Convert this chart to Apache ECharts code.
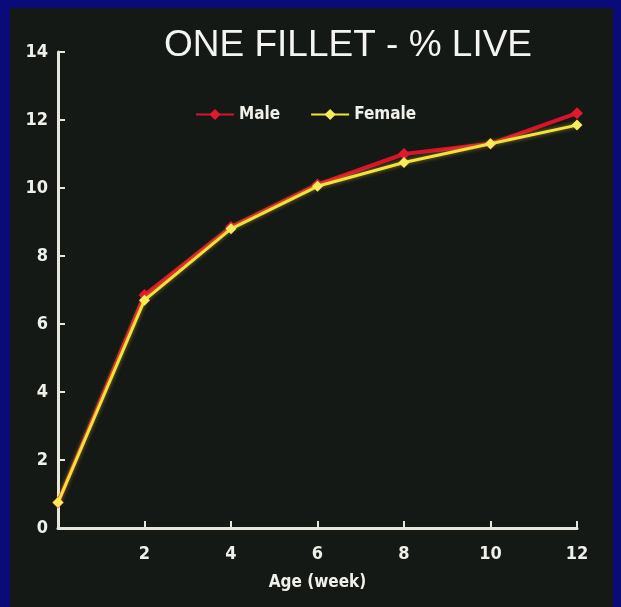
<!DOCTYPE html>
<html><head><meta charset="utf-8">
<script src="https://cdn.jsdelivr.net/npm/echarts@6/dist/echarts.min.js"></script>
<style>html,body{margin:0;padding:0;background:#0a0a78;}#c{width:621px;height:607px;}</style>
</head><body><div id="c"></div>
<script>
var weeks = [0, 2, 4, 6, 8, 10, 12];
var male = [0.75, 6.85, 8.85, 10.1, 11.0, 11.3, 12.2];
var female = [0.75, 6.7, 8.8, 10.05, 10.75, 11.3, 11.85];
var yTicks = [0, 2, 4, 6, 8, 10, 12, 14];
var xTicks = [2, 4, 6, 8, 10, 12];

var chart = echarts.init(document.getElementById('c'));
var F = "'DejaVu Sans Condensed','Liberation Sans Narrow','Liberation Sans',Arial,sans-serif";
function pairs(v){ return weeks.map(function(w,i){return [w, v[i]];}); }
chart.setOption({
  backgroundColor: '#0a0a78',
  graphic: [{type:'rect', shape:{x:10, y:8, width:603, height:599}, style:{fill:'#141916'}, z:-10}],
  title: {text:'ONE FILLET - % LIVE', left:343, top:22, textAlign:'center',
    textStyle:{color:'#f4f4f0', fontSize:37, fontWeight:'normal', fontFamily:"'Liberation Sans',Arial,sans-serif"}},
  legend: {left:190, top:101, itemWidth:38, itemHeight:14, itemGap:30,
    textStyle:{color:'#f0f0ea', fontSize:17, fontWeight:'bold', fontFamily:F},
    data:['Male','Female']},
  grid: {left:58, right:44, top:52, bottom:79},
  xAxis: {type:'value', min:0, max:12, interval:2,
    name:'Age (week)', nameLocation:'middle', nameGap:46,
    nameTextStyle:{color:'#f0f0ea', fontSize:17, fontWeight:'bold', fontFamily:F},
    axisLine:{lineStyle:{color:'#e6e6dc', width:3}},
    axisTick:{inside:true, length:7, lineStyle:{color:'#e6e6dc', width:2}},
    axisLabel:{margin:17, color:'#f0f0ea', fontSize:18, fontWeight:'bold', fontFamily:F,
      formatter:function(v){ return xTicks.indexOf(v) >= 0 ? String(v) : ''; }},
    splitLine:{show:false}},
  yAxis: {type:'value', min:0, max:14, interval:2,
    axisLine:{show:true, lineStyle:{color:'#e6e6dc', width:3}},
    axisTick:{show:true, inside:true, length:7, lineStyle:{color:'#e6e6dc', width:2}},
    axisLabel:{margin:10, color:'#f0f0ea', fontSize:18, fontWeight:'bold', fontFamily:F,
      formatter:function(v){ return yTicks.indexOf(v) >= 0 ? String(v) : ''; }},
    splitLine:{show:false}},
  series: [
    {name:'Male', type:'line', data:pairs(male), symbol:'diamond', symbolSize:12,
      lineStyle:{color:'#d8142a', width:4}, itemStyle:{color:'#e01830'}, z:2},
    {name:'Female', type:'line', data:pairs(female), symbol:'diamond', symbolSize:11,
      lineStyle:{color:'#f3e23c', width:3, shadowColor:'rgba(240,200,40,0.6)', shadowBlur:4},
      itemStyle:{color:'#f6ec5a'}, z:3}
  ]
});
</script></body></html>
